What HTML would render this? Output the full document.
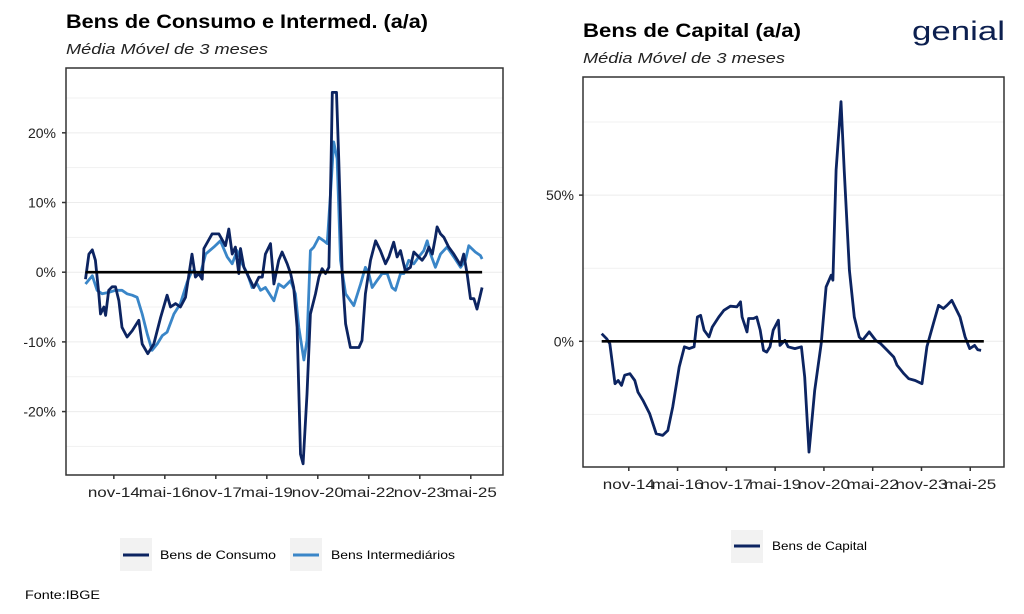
<!DOCTYPE html>
<html><head><meta charset="utf-8"><style>
html,body{margin:0;padding:0;background:#fff;}
svg{display:block;font-family:"Liberation Sans",sans-serif;}
</style></head><body>
<svg id="chart" width="1024" height="614" viewBox="0 0 1024 614">
<text x="66" y="28" font-size="19" font-weight="bold" fill="#000" textLength="362" lengthAdjust="spacingAndGlyphs">Bens de Consumo e Intermed. (a/a)</text>
<text x="66" y="54" font-size="15" font-style="italic" fill="#222" textLength="202" lengthAdjust="spacingAndGlyphs">Média Móvel de 3 meses</text>
<text x="583" y="37" font-size="19" font-weight="bold" fill="#000" textLength="218" lengthAdjust="spacingAndGlyphs">Bens de Capital (a/a)</text>
<text x="583" y="63" font-size="15" font-style="italic" fill="#222" textLength="202" lengthAdjust="spacingAndGlyphs">Média Móvel de 3 meses</text>
<text x="912" y="40" font-size="27" fill="#0c1f4f" textLength="93" lengthAdjust="spacingAndGlyphs">genial</text>
<g id="left"></g>
<g id="right"></g>
<g>
<rect x="120" y="538" width="32" height="33" fill="#f2f2f2"/>
<line x1="123" y1="555" x2="149" y2="555" stroke="#0c2461" stroke-width="3"/>
<text x="160" y="559" font-size="12" textLength="116" lengthAdjust="spacingAndGlyphs">Bens de Consumo</text>
<rect x="290" y="538" width="32" height="33" fill="#f2f2f2"/>
<line x1="293" y1="555" x2="319" y2="555" stroke="#3a86c8" stroke-width="3"/>
<text x="331" y="559" font-size="12" textLength="124" lengthAdjust="spacingAndGlyphs">Bens Intermediários</text>
</g>
<g>
<rect x="731" y="530" width="32" height="33" fill="#f2f2f2"/>
<line x1="734" y1="546" x2="760" y2="546" stroke="#0c2461" stroke-width="3"/>
<text x="772" y="550" font-size="12" textLength="95" lengthAdjust="spacingAndGlyphs">Bens de Capital</text>
</g>
<text x="25" y="599" font-size="12" textLength="75" lengthAdjust="spacingAndGlyphs">Fonte:IBGE</text>
</svg>
<script>
// months since Jan 2014
const xTickLabels = ["nov-14","mai-16","nov-17","mai-19","nov-20","mai-22","nov-23","mai-25"];
const xTickMonths = [10,28,46,64,82,100,118,136];
const consMonths = [0,1.2,2.4,3.5,4.7,5.3,6.5,7.1,8.2,9.4,10.6,11.8,12.9,14.7,16.5,18.8,20,22,24.1,26.5,28.8,30,31.8,33.5,35.3,37.6,38.8,40,41.2,41.8,44.7,47.1,49.4,50.6,51.8,52.9,54.1,54.7,55.9,57.6,59.4,61.2,62.4,63.5,65.3,66.5,68.2,69.4,71.2,72.4,73.5,74.7,75.9,76.8,78.2,79.4,81.2,82.4,83.5,84.7,85.9,86.7,87.1,88.6,89.4,90.6,91.8,93.5,96.5,97.6,98.8,100.6,102.4,104.1,105.9,107.1,108.8,110,111.2,112.9,114.7,115.9,117.6,118.8,120,121.2,122.4,123.5,124.1,125.3,126.5,128.2,130,132.4,133.5,134.7,135.9,137.1,138.2,140];
const consVals = [-1,2.6,3.2,1.7,-3.1,-6,-5,-6.2,-2.6,-2.1,-2.1,-4.1,-7.9,-9.3,-8.4,-6.9,-10.3,-11.7,-10.3,-6.5,-3.3,-5,-4.5,-5,-3.6,2.6,-0.7,-0.2,-1,3.4,5.5,5.5,3.8,6.2,2.6,3.6,-0.2,3.4,0.7,-0.7,-2.2,-0.7,-0.7,2.6,4.1,-1.7,1.7,2.9,1.2,-0.2,-2.2,-7.9,-26.1,-27.5,-17.5,-6,-3.1,-0.7,0.5,-0.2,0.7,16,25.8,25.8,16,-0.2,-7.4,-10.8,-10.8,-9.8,-3.1,1.7,4.5,3.1,1.2,2.2,4.3,2.2,3.1,0.2,0.7,2.9,2.2,1.7,2.4,3.6,2.6,5,6.5,5.5,5,3.6,2.6,1,2.6,-0.2,-3.8,-3.8,-5.3,-2.2];
const interMonths = [0,2.4,4.1,5.9,8.2,10.6,12.9,14.7,16.5,18.2,20,21.8,23.5,25.3,27.1,28.8,31.2,33.5,35.9,37.6,40.6,42.4,45.3,47.6,50,51.8,53.5,55.3,57.1,58.8,60.6,61.8,63.5,66.5,68.2,70,72.4,74.1,75.3,77.1,78.2,79.4,80.6,82.4,84.1,85.3,86.5,87.6,88.8,90,91.8,94.7,97.1,98.8,100,101.2,102.9,104.7,106.5,108.2,109.4,111.2,112.4,114.1,115.9,117.6,119.4,120.6,121.8,123.5,125.3,127.6,130,132.4,134.1,135.3,137.6,139.4,140];
const interVals = [-1.7,-0.5,-2.6,-3.1,-2.9,-2.6,-2.6,-3.1,-3.3,-3.6,-6,-8.9,-11.2,-10.3,-9.1,-8.6,-6,-4.5,-1.4,0.2,-0.2,2.6,3.6,4.5,2.2,1.2,3.1,1.2,-0.2,-2.2,-1.7,-2.6,-2.2,-4.1,-1.7,-2.2,-1.2,-3.1,-7.9,-12.6,-9.8,3.1,3.6,5,4.5,4.1,11.5,18.7,16.3,1.7,-3.1,-4.8,-1.7,0.7,-0.2,-2.2,-1.2,-0.2,-0.2,-2.2,-2.6,-0.2,-0.2,1.7,1.2,2.2,3.1,4.5,2.6,0.7,2.6,3.6,2.2,0.7,1.7,3.8,2.9,2.4,1.9];
const capMonths = [0,1.8,3,4.9,6.1,7.3,8.5,10.4,12.2,13.4,15.2,17.7,20.1,22.5,24.4,26.2,28.6,30.5,32.3,34.1,35.3,36.5,37.8,39.6,40.8,43.2,45.1,47.5,49.9,51.2,51.8,53.6,54.2,56,57.2,58.5,59.7,60.9,62.1,63.3,65.2,65.8,67.6,68.8,71.3,73.7,74.9,76.5,78.6,81,82.8,84.7,85.3,86.5,88.3,89.5,91.4,93.2,95,96.2,98.7,101.1,102.9,105.4,107.8,109,111.5,113.3,115.7,118.2,120,122.4,124.3,126.1,127.4,129.2,132.2,134.1,135.8,137.6,138.8,140];
const capVals = [2.6,0.9,-0.8,-14.5,-13.4,-15.1,-11.6,-11.1,-13.4,-17.4,-20.2,-24.8,-31.6,-32.2,-30.5,-22.5,-8.8,-1.9,-2.5,-1.9,8.3,8.9,3.8,1.5,4.9,8.3,10.6,12,11.8,13.5,8.3,3.2,7.8,7.8,8.3,3.8,-3.1,-3.7,-1.9,3.8,7.2,-1.4,0.3,-1.9,-2.5,-1.9,-12.2,-37.9,-16.8,-0.8,18.6,22.6,20.9,58.6,82,58.6,24.3,8.3,1.5,0.3,3.2,0.3,-0.8,-3.1,-5.4,-8.2,-11.1,-12.8,-13.4,-14.5,-1.9,6.1,12.3,11.2,12.3,14,8.3,1.5,-2.5,-1.4,-2.9,-3.1];
const leftYTicks = [-20,-10,0,10,20];
const leftYMinor = [-25,-15,-5,5,15,25];
const rightYTicks = [0,50];
const rightYMinor = [-25,25,75];

const NS="http://www.w3.org/2000/svg";
function mk(tag,attrs,parent,txt){const e=document.createElementNS(NS,tag);for(const k in attrs)e.setAttribute(k,attrs[k]);if(txt!=null)e.textContent=txt;parent.appendChild(e);return e;}

function panel(g,box,yMin,yMax,x0,xPerMonth,yTicks,yMinor,yLabelX,series,zeroEnd){
  const X=m=>x0+xPerMonth*m;
  const Y=v=>box.b-(v-yMin)/(yMax-yMin)*(box.b-box.t);
  yMinor.forEach(v=>{const l=mk('line',{x1:box.l,x2:box.r,y1:Y(v),y2:Y(v),stroke:'#f1f1f1','stroke-width':1},g);
    
    });
  yTicks.forEach(v=>{const l=mk('line',{x1:box.l,x2:box.r,y1:Y(v),y2:Y(v),stroke:'#ececec','stroke-width':1},g);
    
    
    mk('line',{x1:box.l-4,x2:box.l,y1:Y(v),y2:Y(v),stroke:'#333','stroke-width':1.5},g);
    const t=mk('text',{x:yLabelX,y:Y(v)+5,'font-size':14,'text-anchor':'end',fill:'#222'},g,v+'%');
    
    });
  const fr=mk('rect',{x:box.l,y:box.t,width:box.r-box.l,height:box.b-box.t,fill:'none',stroke:'#333','stroke-width':1.5},g);
  
  
  xTickMonths.forEach((m,i)=>{mk('line',{x1:X(m),x2:X(m),y1:box.b,y2:box.b+4,stroke:'#333','stroke-width':1.5},g);
    const t=mk('text',{x:X(m),y:box.b+22,'font-size':13.5,'text-anchor':'middle',fill:'#222',textLength:52,lengthAdjust:'spacingAndGlyphs'},g,xTickLabels[i]);
    
    });
  series.forEach(s=>{const d=s.m.map((m,i)=>(i?'L':'M')+X(m).toFixed(1)+','+Y(s.v[i]).toFixed(1)).join('');
    const p=mk('path',{d:d,fill:'none',stroke:s.c,'stroke-width':2.8,'stroke-linejoin':'round'},g);
    
    });
  const z=mk('line',{x1:X(0),x2:X(zeroEnd),y1:Y(0),y2:Y(0),stroke:'#000','stroke-width':2.6},g);
  
  
}
panel(document.getElementById('left'),{l:66,r:503,t:68,b:475},-29.1,29.3,85.5,2.833,leftYTicks,leftYMinor,56,
  [{m:interMonths,v:interVals,c:'#3a86c8',name:'line-bens-intermediarios'},{m:consMonths,v:consVals,c:'#0c2461',name:'line-bens-de-consumo'}],140);
panel(document.getElementById('right'),{l:583,r:1004,t:77,b:467},-43,90.4,601.7,2.71,rightYTicks,rightYMinor,574,
  [{m:capMonths,v:capVals,c:'#0c2461',name:'line-bens-de-capital'}],141);
</script>
</body></html>
